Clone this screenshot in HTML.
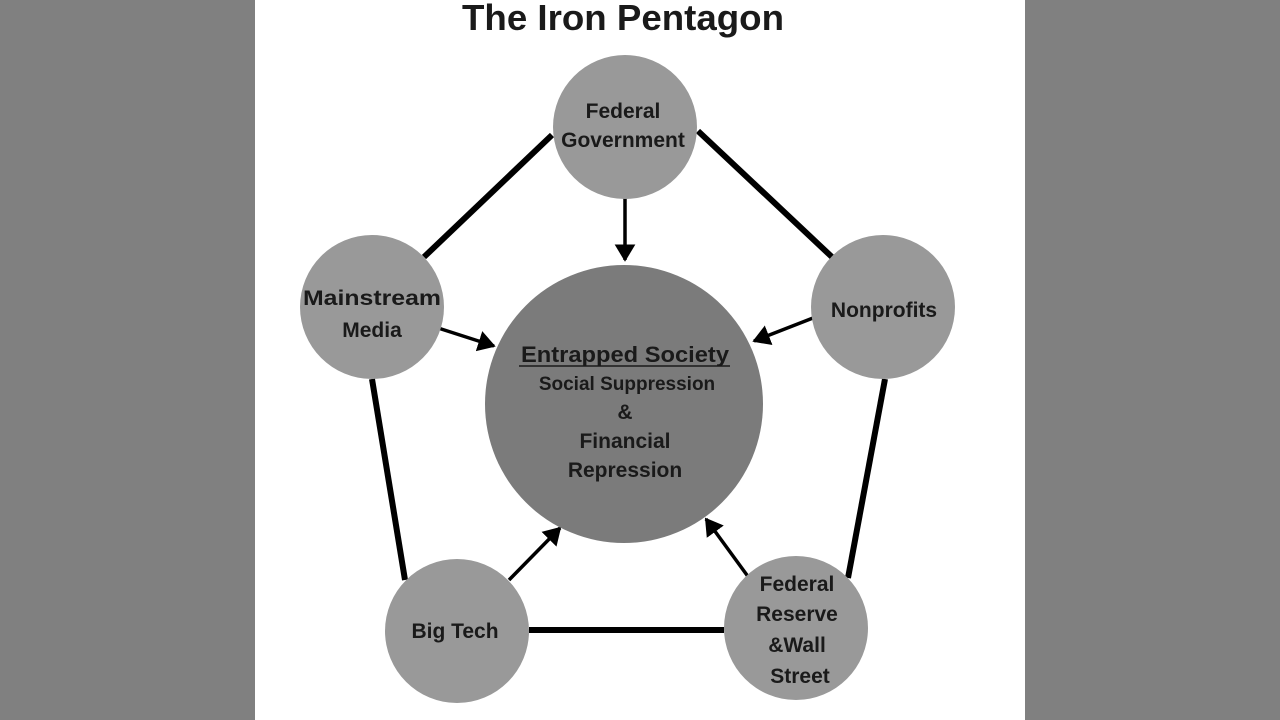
<!DOCTYPE html>
<html><head><meta charset="utf-8"><style>
html,body{margin:0;padding:0;background:#808080;width:1280px;height:720px;overflow:hidden}
svg{display:block}
text{font-family:"Liberation Sans",sans-serif;font-weight:bold;fill:#1a1a1a;text-anchor:middle}
</style></head><body>
<svg width="1280" height="720" viewBox="0 0 1280 720">
<defs><marker id="a" markerWidth="6" markerHeight="6" refX="4.5" refY="3" orient="auto" markerUnits="strokeWidth"><path d="M0,0 L5,3 L0,6 z" fill="#000"/></marker></defs>
<rect x="0" y="0" width="1280" height="720" fill="#808080"/>
<rect x="255" y="0" width="770" height="720" fill="#fff"/>
<text x="623" y="30" font-size="36" fill="#111" textLength="322" lengthAdjust="spacingAndGlyphs">The Iron Pentagon</text>
<g stroke="#000" stroke-width="6">
<line x1="552" y1="135" x2="424" y2="257"/>
<line x1="698" y1="131" x2="832" y2="257"/>
<line x1="372" y1="379" x2="405" y2="580"/>
<line x1="885" y1="379" x2="848" y2="578"/>
<line x1="529" y1="630" x2="724" y2="630"/>
</g>
<g stroke="#000" stroke-width="3.5" marker-end="url(#a)">
<line x1="625" y1="187" x2="625" y2="260"/>
<line x1="435" y1="327" x2="494" y2="346"/>
<line x1="813" y1="318" x2="754" y2="341"/>
<line x1="509" y1="580" x2="560" y2="528"/>
<line x1="752" y1="582" x2="706" y2="519"/>
</g>
<g fill="#999">
<circle cx="625" cy="127" r="72"/>
<circle cx="372" cy="307" r="72"/>
<circle cx="883" cy="307" r="72"/>
<circle cx="457" cy="631" r="72"/>
<circle cx="796" cy="628" r="72"/>
</g>
<circle cx="624" cy="404" r="139" fill="#7b7b7b"/>
<g font-size="21">
<text x="623" y="118">Federal</text>
<text x="623" y="147">Government</text>
<text x="372" y="305" textLength="138" lengthAdjust="spacingAndGlyphs">Mainstream</text>
<text x="372" y="337">Media</text>
<text x="884" y="317">Nonprofits</text>
<text x="455" y="638">Big Tech</text>
<text x="797" y="591">Federal</text>
<text x="797" y="621">Reserve</text>
<text x="797" y="652">&amp;Wall</text>
<text x="800" y="683">Street</text>
<text x="625" y="362" font-size="22" textLength="208" lengthAdjust="spacingAndGlyphs">Entrapped Society</text>
<text x="627" y="390" font-size="19">Social Suppression</text>
<text x="625" y="419">&amp;</text>
<text x="625" y="448">Financial</text>
<text x="625" y="477">Repression</text>
</g>
<line x1="519" y1="366" x2="730" y2="366" stroke="#1a1a1a" stroke-width="1.5"/>
</svg>
</body></html>
